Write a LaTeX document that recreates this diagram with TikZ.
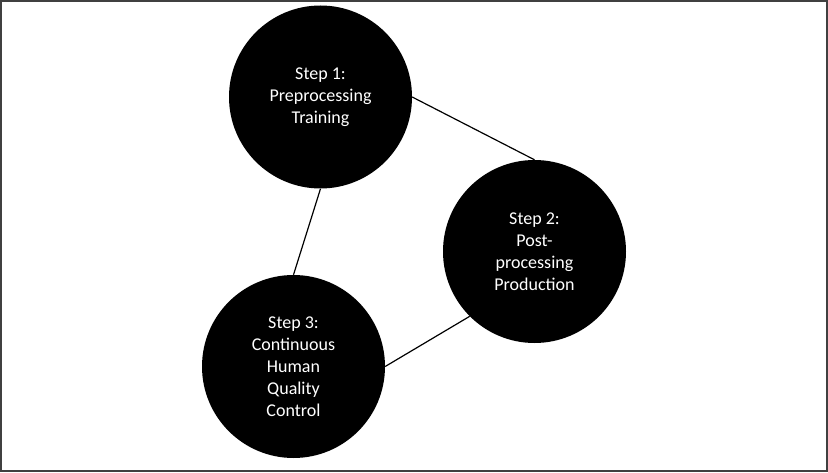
\documentclass[tikz,border=0pt]{standalone}
\usepackage{fontspec}
\setmainfont{Carlito}
\tikzset{
	stepnode/.style={circle,fill=black,text=white,minimum size=183pt,inner sep=0pt,align=center,font=\fontsize{18}{22}\selectfont},
	link/.style={line width=1.2pt}
}
\begin{document}
\begin{tikzpicture}[x=1pt,y=1pt]
	\useasboundingbox (0,0) rectangle (828,472);
	\draw[line width=2pt,black!75] (1,1) rectangle (827,471);
	\node[stepnode] (pre) at (320.5,375) {Step 1:\\Preprocessing\\Training};
	\node[stepnode] (post) at (534.5,220.5) {Step 2:\\Post-\\processing\\Production};
	\node[stepnode] (qc) at (293.5,105.5) {Step 3:\\Continuous\\Human\\Quality\\Control};
	\draw[link] (pre.east) -- (post.north);
	\draw[link] (pre.south) -- (qc.north);
	\draw[link] (qc.east) -- (post.south west);
\end{tikzpicture}
\end{document}
